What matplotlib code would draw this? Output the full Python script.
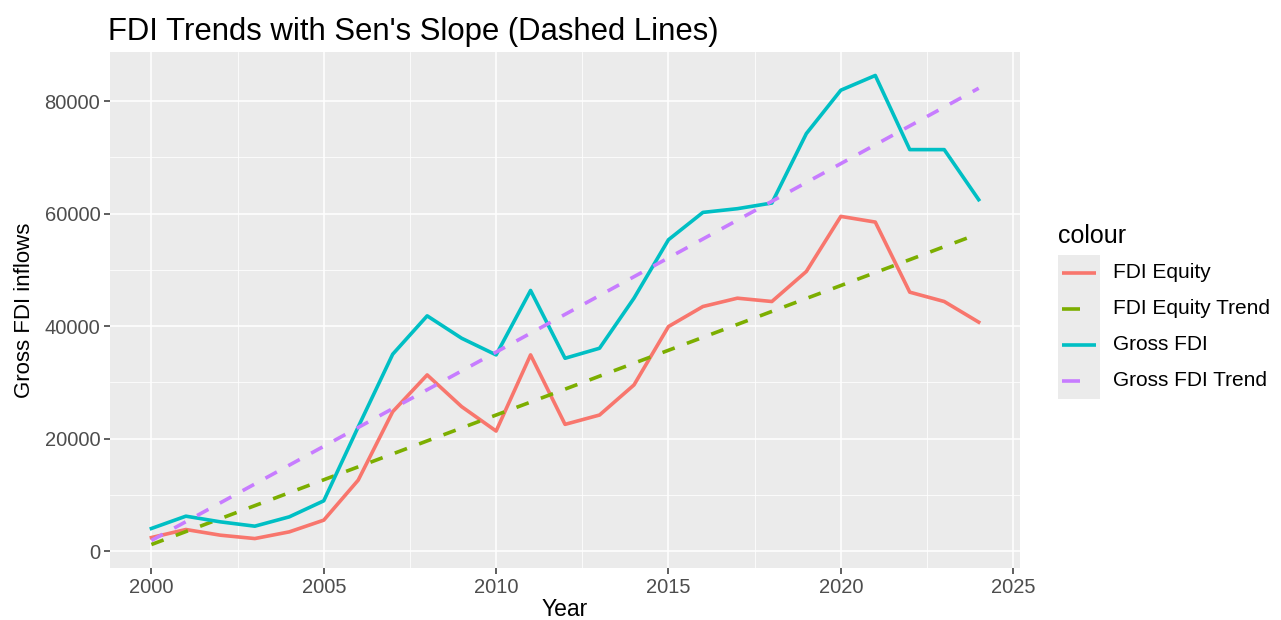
import numpy as np
import matplotlib
matplotlib.use("Agg")
import matplotlib.pyplot as plt
from matplotlib.ticker import MultipleLocator

plt.rcParams['font.family'] = ['Liberation Sans', 'DejaVu Sans']

years = list(range(2000, 2025))

fdi_equity = [2430, 3860, 2850, 2250, 3440, 5520, 12640, 24800, 31340, 25700,
              21360, 34900, 22550, 24210, 29560, 39940, 43500, 44980, 44390, 49730,
              59520, 58510, 46050, 44390, 40720]
gross_fdi = [4040, 6230, 5220, 4450, 6110, 8960, 22100, 35020, 41840, 37860,
             34900, 46350, 34300, 36080, 44980, 55370, 60230, 60890, 61900, 74240,
             81950, 84570, 71390, 71390, 62490]

# Sen's slope trend lines
fdi_equity_trend = [1190, 3490, 5790, 8100, 10400, 12700, 15000, 17300, 19610, 21910,
                    24210, 26510, 28810, 31120, 33420, 35720, 38020, 40320, 42630, 44930,
                    47230, 49530, 51830, 54140, 56440]
gross_fdi_trend = [1900, 5250, 8600, 11950, 15300, 18650, 22000, 25350, 28700, 32050,
                   35400, 38750, 42100, 45450, 48800, 52150, 55500, 58850, 62200, 65550,
                   68900, 72250, 75600, 78950, 82300]

series_names = ["FDI Equity", "FDI Equity Trend", "Gross FDI", "Gross FDI Trend"]
series_colors = ["#F8766D", "#7CAE00", "#00BFC4", "#C77CFF"]
series_dashed = [False, True, False, True]
series_values = [fdi_equity, fdi_equity_trend, gross_fdi, gross_fdi_trend]

lw = 2.6
dash = (3.6, 3.6)

fig = plt.figure(figsize=(12.81, 6.2), dpi=100)
ax = fig.add_axes([0.0859, 0.0839, 0.7104, 0.8322])
ax.set_facecolor("#EBEBEB")

for name, col, dashed, vals in zip(series_names, series_colors, series_dashed, series_values):
    if dashed:
        ax.plot(years, vals, color=col, lw=lw, dashes=dash, zorder=3)
    else:
        ax.plot(years, vals, color=col, lw=lw, zorder=3)

ax.set_xlim(1998.8, 2025.2)
ax.set_ylim(-2980, 88740)
ax.xaxis.set_major_locator(MultipleLocator(5))
ax.xaxis.set_minor_locator(MultipleLocator(2.5))
ax.yaxis.set_major_locator(MultipleLocator(20000))
ax.yaxis.set_minor_locator(MultipleLocator(10000))
ax.grid(which="major", color="white", lw=1.1)
ax.grid(which="minor", color="white", lw=0.55)
ax.set_axisbelow(True)
for s in ax.spines.values():
    s.set_visible(False)
ax.tick_params(which="major", length=4, width=1.1, color="#333333",
               labelcolor="#4D4D4D", labelsize=14.5, pad=3)
ax.tick_params(which="minor", length=0)

ax.set_xlabel("Year", fontsize=16.5, labelpad=1)
ax.set_ylabel("Gross FDI inflows", fontsize=16, labelpad=7)
fig.text(108 / 1281, 1 - 40 / 620, "FDI Trends with Sen's Slope (Dashed Lines)",
         fontsize=22.4, ha="left", va="baseline")

# legend, ggplot style
fig.text(1058 / 1281, 1 - 236 / 620, "colour", fontsize=18, va="center", ha="left")
key_top = 255
key_h = 36
for i, (name, col, dashed) in enumerate(zip(series_names, series_colors, series_dashed)):
    y0 = key_top + i * key_h
    fig.patches.append(plt.Rectangle((1058 / 1281, 1 - (y0 + key_h) / 620), 42 / 1281, key_h / 620,
                                     transform=fig.transFigure, facecolor="#EBEBEB",
                                     edgecolor="none"))
    yc = 1 - (y0 + key_h / 2) / 620
    x1 = 1080 if dashed else 1096
    fig.lines.append(plt.Line2D([1062 / 1281, x1 / 1281], [yc, yc], transform=fig.transFigure,
                                color=col, lw=lw, solid_capstyle="butt"))
    fig.text(1113 / 1281, yc, name, fontsize=15, va="center", ha="left")

fig.savefig("out.png", dpi=100)
